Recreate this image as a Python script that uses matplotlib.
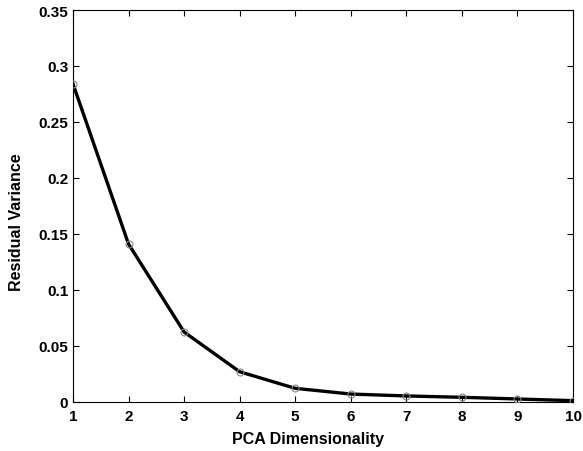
import matplotlib
matplotlib.use("Agg")
import matplotlib.pyplot as plt

dims = [1, 2, 3, 4, 5, 6, 7, 8, 9, 10]
residual_variance = [0.284, 0.141, 0.0625, 0.027, 0.0122, 0.0071, 0.0054, 0.0042, 0.0027, 0.0012]
yticks = [0, 0.05, 0.1, 0.15, 0.2, 0.25, 0.3, 0.35]
ytick_labels = ["0", "0.05", "0.1", "0.15", "0.2", "0.25", "0.3", "0.35"]

plt.rcParams['font.family'] = ['Liberation Sans', 'DejaVu Sans']
fig = plt.figure(figsize=(5.83, 4.52), dpi=100)
ax = fig.add_axes([73/583, 1 - 403/452, 500/583, 392/452])

ax.plot(dims, residual_variance, color='black', linewidth=2.4, zorder=2)
ax.plot(dims, residual_variance, linestyle='none', marker='o', markersize=5,
        markerfacecolor='none', markeredgecolor='#888888', markeredgewidth=0.8, zorder=3)

ax.set_xlim(1, 10)
ax.set_ylim(0, 0.35)
ax.set_xticks(dims)
ax.set_xticklabels([str(d) for d in dims], fontsize=11, fontweight='bold')
ax.set_yticks(yticks)
ax.set_yticklabels(ytick_labels, fontsize=11, fontweight='bold')
ax.tick_params(direction='in', top=True, right=True, length=4, width=0.8)
ax.tick_params(axis='x', pad=5)
for s in ax.spines.values():
    s.set_linewidth(0.8)

ax.set_xlabel('PCA Dimensionality', fontsize=11.5, fontweight='bold')
ax.set_ylabel('Residual Variance', fontsize=11.5, fontweight='bold')
ax.xaxis.set_label_coords((308 - 73) / 500, -(440 - 403) / 392)
ax.yaxis.set_label_coords(-(73 - 17) / 500, (403 - 222) / 392)
ax.xaxis.label.set_va('center')
ax.yaxis.label.set_va('center')

fig.savefig('out.png', dpi=100)
